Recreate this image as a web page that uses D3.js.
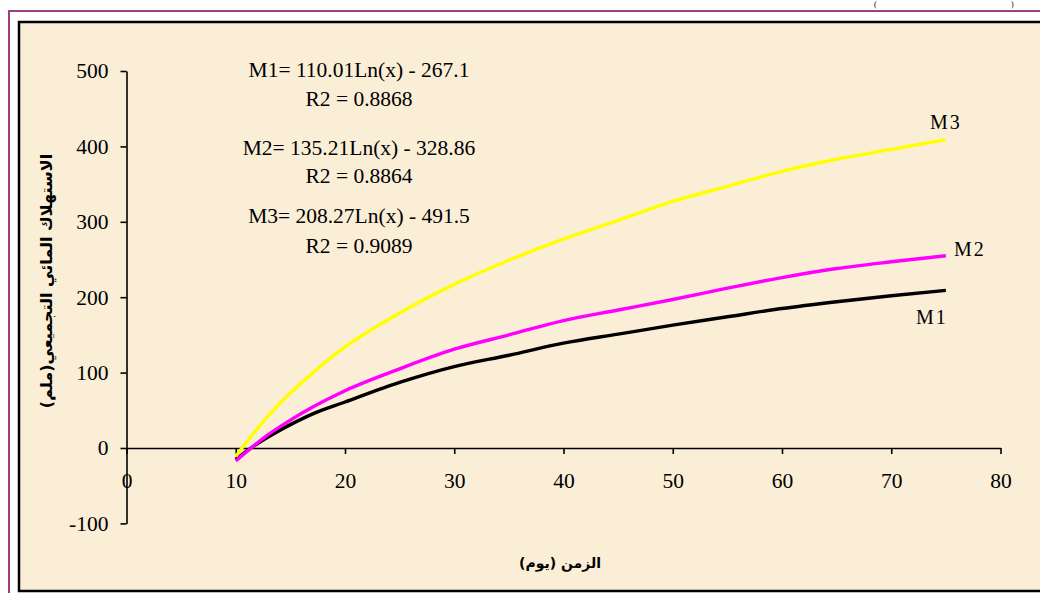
<!DOCTYPE html>
<html>
<head>
<meta charset="utf-8">
<script src="https://cdn.jsdelivr.net/npm/d3@7"></script>
<style>
  body { margin: 0; background: #fff; }
  svg { display: block; }
</style>
</head>
<body>
<svg id="chart" width="1040" height="593"></svg>
<script>
// days (x) and cumulative consumption values
const days = [10, 11, 12, 13, 15, 17, 20, 25, 30, 35, 40, 45, 50, 55, 60, 65, 70, 75];
const m1 = [-15, -4, 6, 15, 31, 45, 61, 87, 108, 123, 139, 151, 163, 174, 185, 194, 202, 209];
const m2 = [-17, -5, 7, 18, 37, 54, 76, 105, 131, 150, 169, 183, 197, 212, 226, 238, 247, 255];
const m3 = [-11, 8, 26, 43, 73, 99, 134, 179, 217, 249, 277, 302, 327, 347, 367, 383, 396, 409];
const seriesNames = ["M1", "M2", "M3"];
const xTicks = [0, 10, 20, 30, 40, 50, 60, 70, 80];
const yTicks = [-100, 0, 100, 200, 300, 400, 500];
const equations = [
    ["M1= 110.01Ln(x) - 267.1", "R2 = 0.8868"],
    ["M2= 135.21Ln(x) - 328.86", "R2 = 0.8864"],
    ["M3= 208.27Ln(x) - 491.5", "R2 = 0.9089"]
];
const xTitle = "الزمن (يوم)";
const yTitle = "الاستهلاك المائي التجميعي(ملم)";

const svg = d3.select("#chart");
const serif = "'Liberation Serif', 'Times New Roman', serif";

// frames
svg.append("rect")
    .attr("x", 9).attr("y", 11).attr("width", 1060).attr("height", 600)
    .attr("fill", "#fff").attr("stroke", "#9c3f7c").attr("stroke-width", 2);
svg.append("rect")
    .attr("x", 19).attr("y", 22).attr("width", 1050).attr("height", 569)
    .attr("fill", "#fbeed7").attr("stroke", "#000").attr("stroke-width", 2.5);

// small text fragments at the very top
svg.append("text").attr("x", 874).attr("y", 7).attr("font-family", serif)
    .attr("font-size", 8).text("(");
svg.append("text").attr("x", 1011).attr("y", 7).attr("font-family", serif)
    .attr("font-size", 8).text(")");

const xScale = d3.scaleLinear().domain([0, 80]).range([126.5, 1000.5]);
const yScale = d3.scaleLinear().domain([-100, 500]).range([523.4, 71]);

const xAxis = d3.axisBottom(xScale).tickValues(xTicks).tickFormat(d => String(d))
    .tickSize(6).tickSizeOuter(0).tickPadding(19);
const yAxis = d3.axisLeft(yScale).tickValues(yTicks).tickFormat(d => String(d))
    .tickSize(6).tickSizeOuter(0).tickPadding(12);

const gx = svg.append("g")
    .attr("transform", "translate(0," + yScale(0) + ")")
    .call(xAxis);
const gy = svg.append("g")
    .attr("transform", "translate(" + xScale(0) + ",0)")
    .call(yAxis);

[gx, gy].forEach(g => {
    g.selectAll("path, line").attr("stroke", "#000").attr("stroke-width", 1.6);
    g.selectAll("text").attr("font-family", serif).attr("font-size", 21.5).attr("fill", "#000");
});

// curves
const line = d3.line()
    .x(d => xScale(d[0]))
    .y(d => yScale(d[1]))
    .curve(d3.curveMonotoneX);

const seriesData = [
    { name: "M1", values: m1, color: "#000000" },
    { name: "M2", values: m2, color: "#ff00ff" },
    { name: "M3", values: m3, color: "#ffff00" }
];

seriesData.forEach(s => {
    svg.append("path")
        .datum(days.map((d, i) => [d, s.values[i]]))
        .attr("fill", "none")
        .attr("stroke", s.color)
        .attr("stroke-width", 3.4)
        .attr("stroke-linejoin", "round")
        .attr("d", line);
});

// series labels near the line ends
const labelPos = { M1: [916, 324], M2: [954, 256], M3: [930, 129] };
seriesNames.forEach(n => {
    svg.append("text")
        .attr("x", labelPos[n][0]).attr("y", labelPos[n][1])
        .attr("font-family", serif).attr("font-size", 20)
        .attr("letter-spacing", 2)
        .text(n);
});

// trendline equations
const eqBaselines = [[77, 106], [155, 183], [223, 253]];
equations.forEach((eq, i) => {
    eq.forEach((t, j) => {
        svg.append("text")
            .attr("x", 359).attr("y", eqBaselines[i][j])
            .attr("text-anchor", "middle")
            .attr("font-family", serif).attr("font-size", 21.5)
            .text(t);
    });
});

// axis titles
svg.append("text")
    .attr("x", 560).attr("y", 568)
    .attr("text-anchor", "middle")
    .attr("direction", "rtl")
    .attr("font-family", "'DejaVu Sans', sans-serif")
    .attr("font-weight", "bold").attr("font-size", 14)
    .text(xTitle);

svg.append("text")
    .attr("transform", "translate(52,281) rotate(-90)")
    .attr("text-anchor", "middle")
    .attr("direction", "rtl")
    .attr("font-family", "'DejaVu Sans', sans-serif")
    .attr("font-weight", "bold").attr("font-size", 16)
    .text(yTitle);
</script>
</body>
</html>
